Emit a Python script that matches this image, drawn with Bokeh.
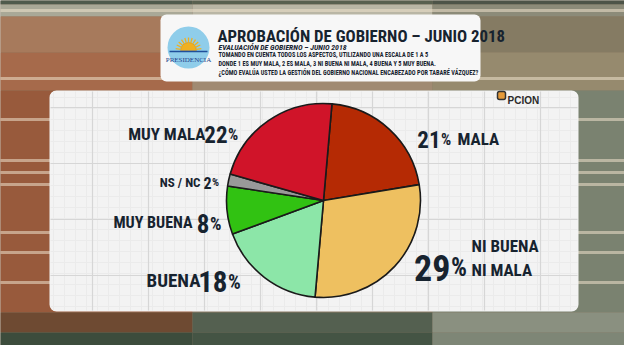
import numpy as np
from bokeh.plotting import figure
from bokeh.models import Range1d, ColumnDataSource
from bokeh.core.properties import value
from bokeh.embed import file_html
from bokeh.resources import INLINE

# ---------------- data ----------------
categories = ["MALA", "NI BUENA NI MALA", "BUENA", "MUY BUENA", "NS / NC", "MUY MALA"]
values = [21, 29, 18, 8, 2, 22]
colors = ["#b52a04", "#eec060", "#8ce6a8", "#31c212", "#999999", "#d01429"]

title = "APROBACIÓN DE GOBIERNO – JUNIO 2018"
subtitle = "EVALUACIÓN DE GOBIERNO – JUNIO 2018"
question = ["TOMANDO EN CUENTA TODOS LOS ASPECTOS, UTILIZANDO UNA ESCALA DE 1 A 5",
            "DONDE 1 ES MUY MALA, 2 ES MALA, 3 NI BUENA NI MALA, 4 BUENA Y 5 MUY BUENA.",
            "¿CÓMO EVALÚA USTED LA GESTIÓN DEL GOBIERNO NACIONAL ENCABEZADO POR TABARÉ VÁZQUEZ?"]

FONT = value("Roboto Condensed, Roboto")
INK = "#17232f"

p = figure(width=624, height=345, x_range=Range1d(8, 632), y_range=Range1d(-353, -8),
           output_backend="svg", toolbar_location=None, min_border=0)
p.axis.visible = False
p.grid.visible = False
p.outline_line_color = None
p.background_fill_color = "#8a7a64"
p.border_fill_color = "#8a7a64"

# ---------------- blurred studio background ----------------
cols = [(0, 200), (200, 440), (440, 640)]
bands = [
    (0, 12, ["#4f5a4c", "#58604f", "#4d5448"]),
    (12, 24, ["#a9a897", "#b9b6a5", "#8c8b79"]),
    (24, 60, ["#a77a5c", "#a78f76", "#857b63"]),
    (60, 98, ["#a66a4b", "#a08a72", "#968a6e"]),
    (98, 320, ["#985a3c", "#8a7a64", "#7a8270"]),
    (320, 340, ["#6e4a32", "#546050", "#8a9080"]),
    (340, 361, ["#3c4c3c", "#445444", "#7e8676"]),
]
bl, br, bt, bb, bc = [], [], [], [], []
for y0, y1, cs in bands:
    for (x0, x1), c in zip(cols, cs):
        bl.append(x0); br.append(x1); bt.append(-y0); bb.append(-y1); bc.append(c)
p.quad(left=bl, right=br, top=bt, bottom=bb, fill_color=bc, line_color=None)
# light streaks
sy = [127, 168, 180, 192, 240, 260, 290, 18, 86]
p.segment(x0=[0] * len(sy), x1=[640] * len(sy), y0=[-v for v in sy], y1=[-v for v in sy],
          line_color="#efe2cc", line_width=3, line_alpha=0.55)

# ---------------- main panel ----------------
p.quad(left=[57], right=[586], top=[-98], bottom=[-319], fill_color="#f3f3f3",
       line_color=None, border_radius=7)
minor_x = list(range(61, 586, 11))
minor_y = list(range(105, 319, 11))
p.segment(x0=minor_x, x1=minor_x, y0=[-99] * len(minor_x), y1=[-318] * len(minor_x),
          line_color="#ebebeb", line_width=1)
p.segment(x0=[58] * len(minor_y), x1=[585] * len(minor_y), y0=[-v for v in minor_y],
          y1=[-v for v in minor_y], line_color="#ebebeb", line_width=1)
major_x = [100, 156, 212, 268, 324, 380, 436, 492, 548]
major_y = [115, 171, 227, 283]
p.segment(x0=major_x, x1=major_x, y0=[-99] * len(major_x), y1=[-318] * len(major_x),
          line_color="#d6d6d6", line_width=1.2)
p.segment(x0=[58] * len(major_y), x1=[585] * len(major_y), y0=[-v for v in major_y],
          y1=[-v for v in major_y], line_color="#d6d6d6", line_width=1.2)

# OPCION logo
p.quad(left=[505], right=[513], top=[-99], bottom=[-107], fill_color="#e59a3a",
       line_color="#333333", line_width=1.5, border_radius=2)
p.text(x=[515], y=[-107.5], text=["PCION"], text_font=value("Liberation Sans"),
       text_font_style="bold", text_font_size="10px", text_color="#2a2a2a",
       text_baseline="alphabetic")

# ---------------- title box ----------------
p.quad(left=[168], right=[488], top=[-22], bottom=[-89], fill_color="#f7f7f7",
       line_color=None, border_radius=6)
p.circle(x=[196], y=[-55], radius=21, fill_color="#8fcdea", line_color=None)
p.wedge(x=[196], y=[-58], radius=8, start_angle=0, end_angle=np.pi,
        fill_color="#f0b020", line_color="#d08a10", line_width=0.5)
ray_ang = np.linspace(0.15, np.pi - 0.15, 11)
p.segment(x0=196 + 8 * np.cos(ray_ang), y0=-58 + 8 * np.sin(ray_ang),
          x1=196 + 13 * np.cos(ray_ang), y1=-58 + 13 * np.sin(ray_ang),
          line_color="#f0b020", line_width=1.3)
p.segment(x0=[177], x1=[215], y0=[-59], y1=[-59], line_color="#1f4f9a", line_width=1.5)
p.text(x=[196], y=[-67], text=["PRESIDENCIA"], text_font=value("Liberation Serif"),
       text_font_size="7px", text_color="#1f3f8a", text_align="center",
       text_baseline="alphabetic")

p.text(x=[225], y=[-43.5], text=[title], text_font=FONT, text_font_style="bold",
       text_font_size="16.8px", text_color=INK, text_baseline="alphabetic")
p.text(x=[226], y=[-54.5], text=[subtitle], text_font=FONT, text_font_style="bold italic",
       text_font_size="7.8px", text_color=INK, text_baseline="alphabetic")
p.text(x=[226] * 3, y=[-62, -71.5, -80.5], text=question, text_font=FONT,
       text_font_style="bold", text_font_size="6.3px", text_color=INK,
       text_baseline="alphabetic")

# ---------------- pie ----------------
cx, cy, r = 331, -208, 97
start0 = np.deg2rad(85)
frac = np.array(values, dtype=float) / sum(values)
cum = np.concatenate([[0], np.cumsum(frac)])
src = ColumnDataSource(dict(cat=categories, val=values, color=colors,
                            start=start0 - cum[:-1] * 2 * np.pi,
                            end=start0 - cum[1:] * 2 * np.pi))
p.wedge(x=cx, y=cy, radius=r, start_angle="start", end_angle="end", direction="clock",
        fill_color="color", line_color="#1a1a1a", line_width=1.6, source=src)

# ---------------- labels ----------------
layout = {
    "MALA": dict(cx=465, cb=146, ca="left", cs=17, nx=448, nb=147, ns=23),
    "NI BUENA NI MALA": dict(cx=479, cb=None, ca="left", cs=17, nx=458, nb=275, ns=36),
    "BUENA": dict(cx=208, cb=288, ca="right", cs=19, nx=235, nb=289, ns=29),
    "MUY BUENA": dict(cx=200, cb=230, ca="right", cs=16, nx=217, nb=231, ns=25),
    "NS / NC": dict(cx=208, cb=190, ca="right", cs=13, nx=219, nb=190, ns=16),
    "MUY MALA": dict(cx=213, cb=141, ca="right", cs=17, nx=235, nb=142, ns=23),
}
for cat, val in zip(categories, values):
    L = layout[cat]
    p.text(x=[L["nx"]], y=[-L["nb"]], text=[str(val)], text_font=FONT, text_font_style="bold",
           text_font_size=f"{L['ns']}px", text_color=INK, text_align="right",
           text_baseline="alphabetic")
    p.text(x=[L["nx"] + 0.5], y=[-L["nb"]], text=["%"], text_font=FONT, text_font_style="bold",
           text_font_size=f"{round(L['ns'] * 0.7)}px", text_color=INK,
           text_align="left", text_baseline="alphabetic")
    if cat == "NI BUENA NI MALA":
        p.text(x=[L["cx"]] * 2, y=[-253, -277], text=["NI BUENA", "NI MALA"], text_font=FONT,
               text_font_style="bold", text_font_size=f"{L['cs']}px", text_color=INK,
               text_align="left", text_baseline="alphabetic")
    else:
        p.text(x=[L["cx"]], y=[-L["cb"]], text=[cat], text_font=FONT, text_font_style="bold",
               text_font_size=f"{L['cs']}px", text_color=INK, text_align=L["ca"],
               text_baseline="alphabetic")

open("out.html", "w").write(file_html(p, INLINE))
